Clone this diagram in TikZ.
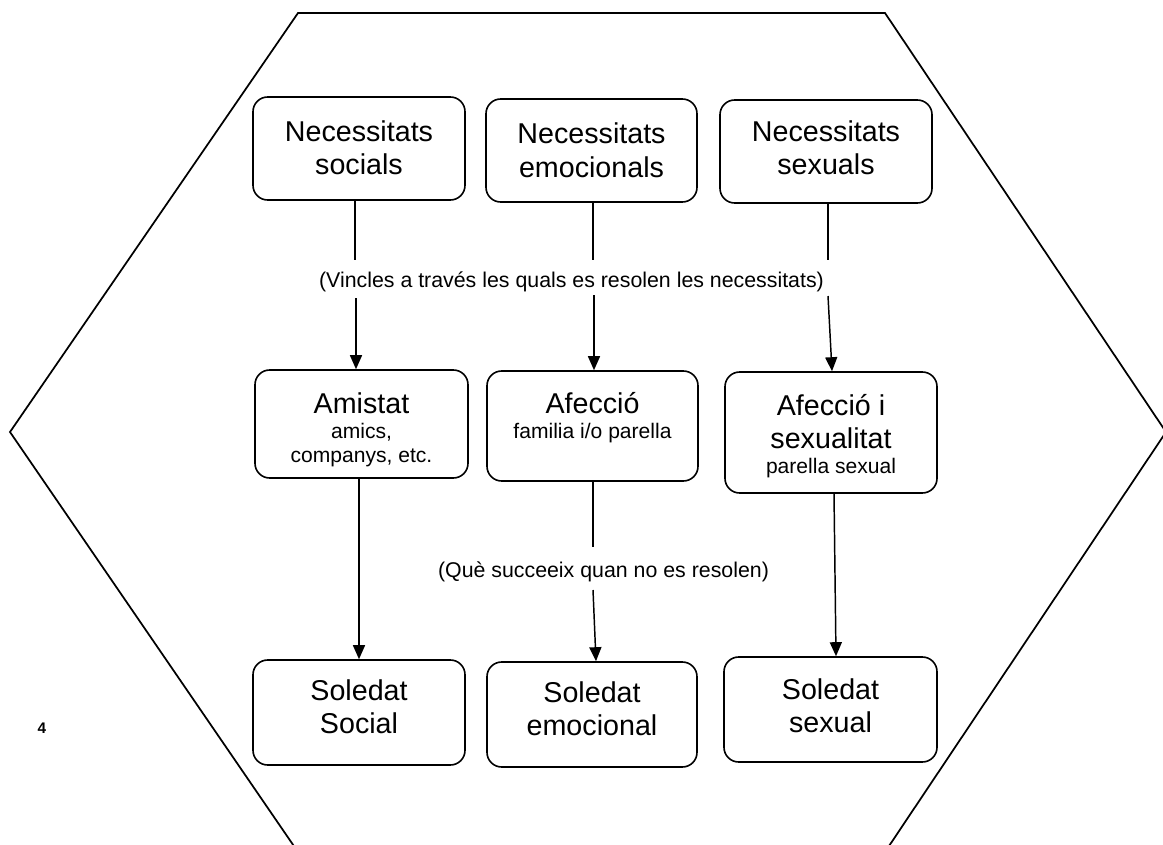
\documentclass[tikz,border=0pt]{standalone}
\usepackage{fontspec}
\setmainfont{Liberation Sans}
\usetikzlibrary{arrows.meta}
\tikzset{
  box/.style={draw, line width=1.2pt, rounded corners=11pt, inner sep=0pt},
  maintxt/.style={font=\fontsize{21.5}{24.75}\selectfont, anchor=base, inner sep=0pt},
  smalltxt/.style={font=\fontsize{15.8}{18.4}\selectfont, anchor=base, inner sep=0pt},
  labtxt/.style={font=\fontsize{16}{18.4}\selectfont, inner sep=0pt},
  conn/.style={line width=1.1pt},
  arr/.style={line width=1.1pt, -{Triangle[length=10.5pt,width=9pt]}},
  hexline/.style={line width=1.3pt}
}
\begin{document}
\begin{tikzpicture}[x=0.75pt,y=-0.75pt]
\useasboundingbox (0,0) rectangle (1163,845);
\fill[white] (0,0) rectangle (1163,845);
\begin{scope}
\clip (0,0) rectangle (1163,845);
\draw[hexline] (298,13) -- (885,13) -- (1166,432) -- (885,852) -- (298,852) -- (10,432) -- cycle;
\end{scope}

% top row
\node[box, minimum width=159pt, minimum height=77.25pt] (n1) at (359,148.5) {};
\node[box, minimum width=158.25pt, minimum height=77.25pt] (n2) at (591.5,150.5) {};
\node[box, minimum width=159pt, minimum height=77.25pt] (n3) at (826,151.5) {};
\node[maintxt] (n1a) at (359,142) {Necessitats};
\node[maintxt] (n1b) at (359,175) {socials};
\node[maintxt] (n2a) at (591.5,144) {Necessitats};
\node[maintxt] (n2b) at (591.5,177) {emocionals};
\node[maintxt] (n3a) at (826,142) {Necessitats};
\node[maintxt] (n3b) at (826,175) {sexuals};

% middle row
\node[box, minimum width=159.75pt, minimum height=81pt] (m1) at (361.5,424) {};
\node[box, minimum width=158.25pt, minimum height=82.5pt] (m2) at (592.5,426) {};
\node[box, minimum width=159pt, minimum height=90.75pt] (m3) at (831,432.5) {};
\node[maintxt] (m1a) at (361.5,413) {Amistat};
\node[smalltxt] (m1b) at (361.5,438) {amics,};
\node[smalltxt] (m1c) at (361.5,462.5) {companys, etc.};
\node[maintxt] (m2a) at (592.5,413) {Afecció};
\node[smalltxt] (m2b) at (592.5,438) {familia i/o parella};
\node[maintxt] (m3a) at (831,415) {Afecció i};
\node[maintxt] (m3b) at (831,448) {sexualitat};
\node[smalltxt] (m3c) at (831,473) {parella sexual};

% bottom row
\node[box, minimum width=159pt, minimum height=78.75pt] (b1) at (359,712.5) {};
\node[box, minimum width=157.5pt, minimum height=78.75pt] (b2) at (592,714.5) {};
\node[box, minimum width=159.75pt, minimum height=78.75pt] (b3) at (830.5,709.5) {};
\node[maintxt] (b1a) at (359,700) {Soledat};
\node[maintxt] (b1b) at (359,733) {Social};
\node[maintxt] (b2a) at (592,702) {Soledat};
\node[maintxt] (b2b) at (592,735) {emocional};
\node[maintxt] (b3a) at (830.5,699) {Soledat};
\node[maintxt] (b3b) at (830.5,732) {sexual};

% labels
\node[labtxt] (l1) at (571.5,282) {(Vincles a través les quals es resolen les necessitats)};
\node[labtxt] (l2) at (603.5,572) {(Què succeeix quan no es resolen)};
\node[font=\fontsize{11.5}{13}\selectfont\bfseries, inner sep=0pt] (pg) at (42,728) {4};

% connectors top -> middle
\coordinate (u1) at (355,260);
\coordinate (d1) at (356,298);
\coordinate (u2) at (593,260);
\coordinate (d2) at (594,295);
\coordinate (u3) at (828,260);
\coordinate (d3) at (828,296);
\draw[conn] (n1.south -| u1) -- (u1);
\draw[arr] (d1) -- (d1 |- m1.north);
\draw[conn] (n2.south -| u2) -- (u2);
\draw[arr] (d2) -- (d2 |- m2.north);
\draw[conn] (n3.south -| u3) -- (u3);
\draw[arr] (d3) -- (832,0 |- m3.north);

% connectors middle -> bottom
\coordinate (s1) at (359,0);
\draw[arr] (m1.south -| s1) -- (b1.north -| s1);
\coordinate (u5) at (593,547);
\coordinate (d5) at (593,590);
\draw[conn] (m2.south -| u5) -- (u5);
\draw[arr] (d5) -- (596,0 |- b2.north);
\coordinate (s3) at (834,0);
\draw[arr] (m3.south -| s3) -- (836,0 |- b3.north);
\end{tikzpicture}
\end{document}
